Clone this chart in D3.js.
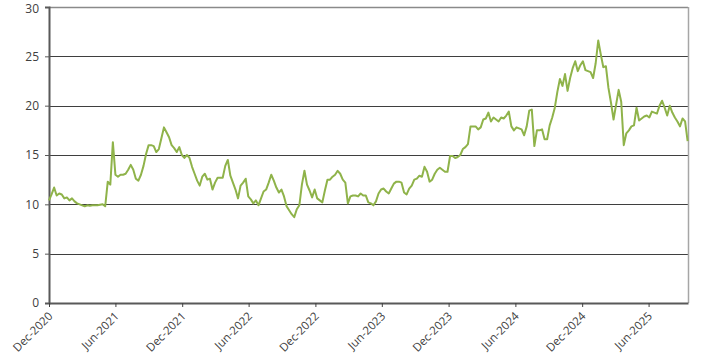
<!DOCTYPE html>
<html>
<head>
<meta charset="utf-8">
<script src="https://cdn.jsdelivr.net/npm/d3@7"></script>
<style>
  html, body { margin: 0; padding: 0; background: #ffffff; }
  svg { display: block; }
  text { font-family: "Open Sans", "Noto Sans", sans-serif; }
</style>
</head>
<body>
<svg id="chart" width="707" height="361"></svg>
<script>
const dates = [
"2020-12-01","2020-12-08","2020-12-15","2020-12-22","2020-12-29",
"2021-01-05","2021-01-12","2021-01-19","2021-01-26",
"2021-02-02","2021-02-09","2021-02-16","2021-02-23",
"2021-03-02","2021-03-09","2021-03-16","2021-03-23","2021-03-30",
"2021-04-06","2021-04-13","2021-04-20","2021-04-27",
"2021-05-04","2021-05-11","2021-05-18","2021-05-25",
"2021-06-01","2021-06-08","2021-06-15","2021-06-22","2021-06-29",
"2021-07-06","2021-07-13","2021-07-20","2021-07-27",
"2021-08-03","2021-08-10","2021-08-17","2021-08-24","2021-08-31",
"2021-09-07","2021-09-14","2021-09-21","2021-09-28",
"2021-10-05","2021-10-12","2021-10-19","2021-10-26",
"2021-11-02","2021-11-09","2021-11-16","2021-11-23","2021-11-30",
"2021-12-07","2021-12-14","2021-12-21","2021-12-28",
"2022-01-04","2022-01-11","2022-01-18","2022-01-25",
"2022-02-01","2022-02-08","2022-02-15","2022-02-22",
"2022-03-01","2022-03-08","2022-03-15","2022-03-22","2022-03-29",
"2022-04-05","2022-04-12","2022-04-19","2022-04-26",
"2022-05-03","2022-05-10","2022-05-17","2022-05-24","2022-05-31",
"2022-06-07","2022-06-14","2022-06-21","2022-06-28",
"2022-07-05","2022-07-12","2022-07-19","2022-07-26",
"2022-08-02","2022-08-09","2022-08-16","2022-08-23","2022-08-30",
"2022-09-06","2022-09-13","2022-09-20","2022-09-27",
"2022-10-04","2022-10-11","2022-10-18","2022-10-25",
"2022-11-01","2022-11-08","2022-11-15","2022-11-22","2022-11-29",
"2022-12-06","2022-12-13","2022-12-20","2022-12-27",
"2023-01-03","2023-01-10","2023-01-17","2023-01-24","2023-01-31",
"2023-02-07","2023-02-14","2023-02-21","2023-02-28",
"2023-03-07","2023-03-14","2023-03-21","2023-03-28",
"2023-04-04","2023-04-11","2023-04-18","2023-04-25",
"2023-05-02","2023-05-09","2023-05-16","2023-05-23","2023-05-30",
"2023-06-06","2023-06-13","2023-06-20","2023-06-27",
"2023-07-04","2023-07-11","2023-07-18","2023-07-25",
"2023-08-01","2023-08-08","2023-08-15","2023-08-22","2023-08-29",
"2023-09-05","2023-09-12","2023-09-19","2023-09-26",
"2023-10-03","2023-10-10","2023-10-17","2023-10-24","2023-10-31",
"2023-11-07","2023-11-14","2023-11-21","2023-11-28",
"2023-12-05","2023-12-12","2023-12-19","2023-12-26",
"2024-01-02","2024-01-09","2024-01-16","2024-01-23","2024-01-30",
"2024-02-06","2024-02-13","2024-02-20","2024-02-27",
"2024-03-05","2024-03-12","2024-03-19","2024-03-26",
"2024-04-02","2024-04-09","2024-04-16","2024-04-23","2024-04-30",
"2024-05-07","2024-05-14","2024-05-21","2024-05-28",
"2024-06-04","2024-06-11","2024-06-18","2024-06-25",
"2024-07-02","2024-07-09","2024-07-16","2024-07-23","2024-07-30",
"2024-08-06","2024-08-13","2024-08-20","2024-08-27",
"2024-09-03","2024-09-10","2024-09-17","2024-09-24",
"2024-10-01","2024-10-08","2024-10-15","2024-10-22","2024-10-29",
"2024-11-05","2024-11-12","2024-11-19","2024-11-26",
"2024-12-03","2024-12-10","2024-12-17","2024-12-24","2024-12-31",
"2025-01-07","2025-01-14","2025-01-21","2025-01-28",
"2025-02-04","2025-02-11","2025-02-18","2025-02-25",
"2025-03-04","2025-03-11","2025-03-18","2025-03-25",
"2025-04-01","2025-04-08","2025-04-15","2025-04-22","2025-04-29",
"2025-05-06","2025-05-13","2025-05-20","2025-05-27",
"2025-06-03","2025-06-10","2025-06-17","2025-06-24",
"2025-07-01","2025-07-08","2025-07-15","2025-07-22","2025-07-29",
"2025-08-05","2025-08-12","2025-08-19","2025-08-26",
"2025-09-02","2025-09-09","2025-09-16"
];

const values = [
10.4,11.0,11.7,10.9,11.1,
11.0,10.6,10.7,10.4,
10.6,10.3,10.1,10.0,
9.9,9.8,9.9,9.85,9.9,
9.9,9.9,9.95,10.0,
9.8,12.3,12.0,16.3,
13.0,12.8,13.0,13.0,13.1,
13.5,14.0,13.5,12.6,
12.4,13.0,13.9,15.1,16.0,
16.0,15.9,15.3,15.6,
16.7,17.8,17.3,16.8,
16.0,15.7,15.3,15.8,15.0,
14.7,15.0,14.7,13.8,
13.1,12.4,11.9,12.8,
13.1,12.5,12.6,11.5,
12.2,12.7,12.7,12.7,13.9,
14.5,12.9,12.2,11.5,
10.6,11.9,12.2,12.6,10.8,
10.5,10.1,10.4,9.9,
10.6,11.3,11.5,12.2,
13.0,12.4,11.7,11.2,11.5,
10.8,9.8,9.4,9.0,
8.7,9.5,9.9,12.0,
13.4,12.0,11.4,10.7,11.5,
10.6,10.4,10.2,11.4,
12.5,12.5,12.8,13.0,13.4,
13.1,12.5,12.2,10.1,
10.8,10.9,10.9,10.8,
11.1,10.9,10.9,10.2,
10.1,9.9,10.3,11.1,11.5,
11.6,11.3,11.1,11.6,
12.1,12.3,12.3,12.2,
11.2,11.0,11.6,11.9,12.5,
12.6,12.9,12.8,13.8,
13.3,12.3,12.5,13.1,13.5,
13.7,13.5,13.3,13.3,
14.9,14.9,14.7,14.8,
15.0,15.6,15.8,16.1,17.9,
17.9,17.9,17.6,17.8,
18.6,18.7,19.3,18.4,
18.8,18.6,18.4,18.8,18.7,
19.0,19.4,17.9,17.5,
17.8,17.7,17.6,17.0,
17.9,19.5,19.6,15.9,17.5,
17.5,17.6,16.6,16.6,
18.0,18.8,19.8,21.4,
22.7,22.0,23.2,21.5,22.8,
23.8,24.5,23.5,24.1,
24.5,23.6,23.5,23.4,22.8,
24.3,26.6,25.2,23.9,
24.0,21.8,20.3,18.6,
20.1,21.6,20.4,16.0,
17.2,17.5,17.9,18.0,19.8,
18.5,18.7,18.9,19.0,
18.8,19.4,19.3,19.2,
20.0,20.5,19.8,19.0,20.0,
19.3,18.8,18.4,17.9,
18.7,18.4,16.4
];

const xDomain = ["2020-12-01", "2025-09-17"];
const xTickDates = ["2020-12-01","2021-06-01","2021-12-01","2022-06-01","2022-12-01",
                    "2023-06-01","2023-12-01","2024-06-01","2024-12-01","2025-06-01"];
const xTickLabels = ["Dec-2020","Jun-2021","Dec-2021","Jun-2022","Dec-2022",
                     "Jun-2023","Dec-2023","Jun-2024","Dec-2024","Jun-2025"];
const yTicks = [0, 5, 10, 15, 20, 25, 30];

// ---- CHART ----
const parse = d3.utcParse("%Y-%m-%d");
const data = dates.map((d, i) => ({ date: parse(d), value: values[i] }));

const margin = { left: 49, right: 19, top: 7, bottom: 58 };
const W = 707, H = 361;
const svg = d3.select("#chart");

const x = d3.scaleUtc()
  .domain(xDomain.map(parse))
  .range([margin.left, W - margin.right]);
const y = d3.scaleLinear()
  .domain([0, 30])
  .range([H - margin.bottom, margin.top]);

// horizontal gridlines
svg.append("g")
  .selectAll("line")
  .data(yTicks.filter(t => t > 0))
  .join("line")
  .attr("x1", margin.left).attr("x2", W - margin.right)
  .attr("y1", d => Math.round(y(d)) + 0.5).attr("y2", d => Math.round(y(d)) + 0.5)
  .attr("stroke", d => d === 30 ? "#8a8a8a" : "#3f3f3f")
  .attr("stroke-width", d => d === 30 ? 1.5 : 1.2);

// right border
svg.append("line")
  .attr("x1", W - margin.right + 0.5).attr("x2", W - margin.right + 0.5)
  .attr("y1", y(30)).attr("y2", y(0))
  .attr("stroke", "#a6a6a6").attr("stroke-width", 1.5);

// y axis
const yAxis = d3.axisLeft(y).tickValues(yTicks).tickSize(4).tickPadding(6).tickFormat(d3.format("d"));
const gy = svg.append("g").attr("transform", `translate(${margin.left},0)`).call(yAxis);
gy.select(".domain").attr("stroke", "#595959").attr("stroke-width", 2);
gy.selectAll(".tick line").attr("stroke", "#595959").attr("stroke-width", 1);
gy.selectAll(".tick text").attr("fill", "#404040").style("font-size", "12px")
  .style("font-family", "'Open Sans', 'Noto Sans', sans-serif");
gy.selectAll(".tick").filter(d => d === 30).select("text").attr("dy", "0.45em");

// x axis
const xAxis = d3.axisBottom(x)
  .tickValues(xTickDates.map(parse))
  .tickFormat((d, i) => xTickLabels[i])
  .tickSize(4).tickSizeOuter(0);
const gx = svg.append("g").attr("transform", `translate(0,${y(0)})`).call(xAxis);
gx.select(".domain").attr("stroke", "#595959").attr("stroke-width", 2.2);
gx.selectAll(".tick line").attr("stroke", "#404040").attr("stroke-width", 1);
gx.selectAll(".tick text")
  .attr("fill", "#404040")
  .style("font-size", "11.5px")
  .style("font-family", "'Open Sans', 'Noto Sans', sans-serif")
  .attr("text-anchor", "end")
  .attr("dy", "0.35em")
  .attr("transform", "translate(1,11) rotate(-45)")
  .attr("x", 0).attr("y", 0);

// line
const line = d3.line()
  .x(d => x(d.date))
  .y(d => y(d.value));
svg.append("path")
  .datum(data)
  .attr("fill", "none")
  .attr("stroke", "#8fb34a")
  .attr("stroke-width", 2)
  .attr("stroke-linejoin", "round")
  .attr("d", line);
</script>
</body>
</html>
